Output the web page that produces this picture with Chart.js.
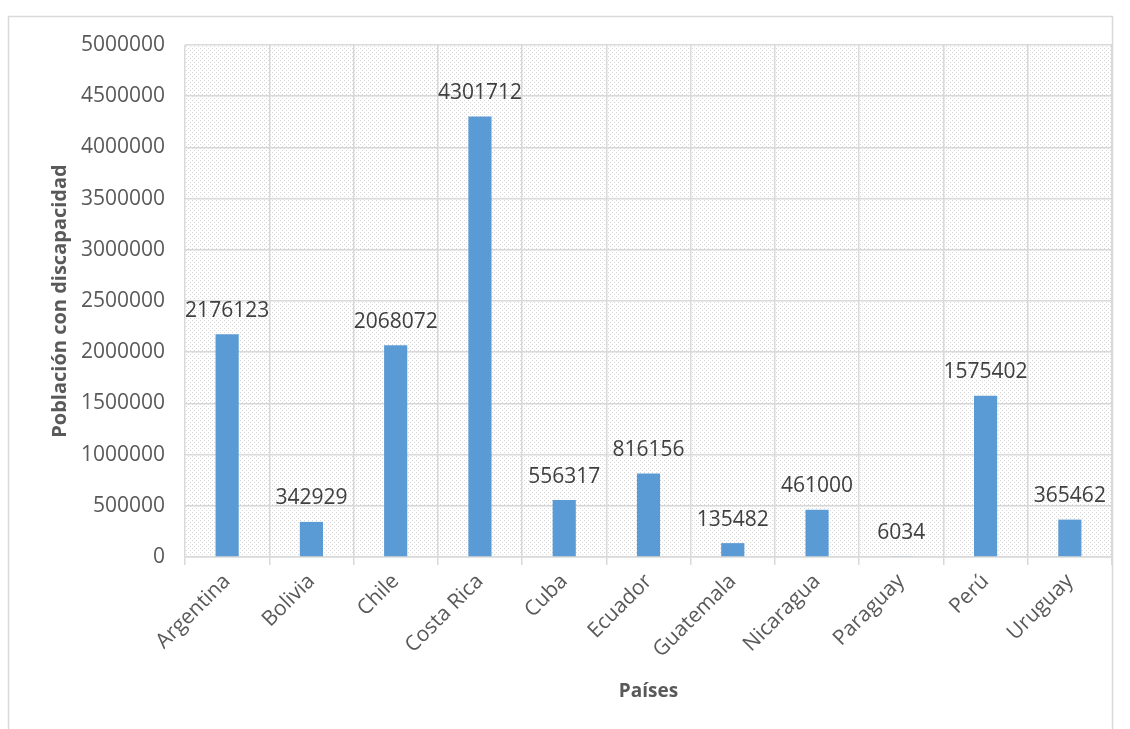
<!DOCTYPE html>
<html>
<head>
<meta charset="utf-8">
<script src="https://cdn.jsdelivr.net/npm/chart.js@4/dist/chart.umd.min.js"></script>
<style>
  html, body { margin: 0; padding: 0; background: #fff; }
  #wrap { width: 1130px; height: 729px; position: relative; }
</style>
</head>
<body>
<div id="wrap"><canvas id="chart" width="1130" height="729"></canvas></div>
<script>
// chart data
const countries = ['Argentina', 'Bolivia', 'Chile', 'Costa Rica', 'Cuba', 'Ecuador',
  'Guatemala', 'Nicaragua', 'Paraguay', 'Perú', 'Uruguay'];
const population = [2176123, 342929, 2068072, 4301712, 556317, 816156,
  135482, 461000, 6034, 1575402, 365462];
const yMax = 5000000;
const yStep = 500000;

const textColor = '#595959';
const gridColor = '#d9d9d9';
const fontFamily = '"Open Sans", "Noto Sans", sans-serif';

function makeHatch() {
  const c = document.createElement('canvas');
  c.width = 8; c.height = 8;
  const g = c.getContext('2d');
  g.fillStyle = '#ffffff';
  g.fillRect(0, 0, 8, 8);
  g.fillStyle = '#d6d6d6';
  for (let y = 0; y < 8; y++) {
    for (let x = 0; x < 8; x++) {
      if ((x - y + 16) % 4 === 0 && x % 2 === 0) g.fillRect(x, y, 1, 1);
    }
  }
  return c;
}

// outer frame + hatched plot background
const backgroundPlugin = {
  id: 'hatchBg',
  beforeDraw(chart) {
    const { ctx, chartArea } = chart;
    ctx.save();
    ctx.strokeStyle = gridColor;
    ctx.lineWidth = 1.5;
    ctx.strokeRect(8.5, 16.5, 1104, 740);
    ctx.fillStyle = ctx.createPattern(makeHatch(), 'repeat');
    ctx.fillRect(chartArea.left, chartArea.top,
      chartArea.right - chartArea.left, chartArea.bottom - chartArea.top);
    ctx.restore();
  }
};

// value labels above the bars
const valueLabels = {
  id: 'valueLabels',
  afterDatasetsDraw(chart) {
    const { ctx } = chart;
    const meta = chart.getDatasetMeta(0);
    ctx.save();
    ctx.font = '21px ' + fontFamily;
    ctx.fillStyle = '#404040';
    ctx.textAlign = 'center';
    ctx.textBaseline = 'bottom';
    meta.data.forEach((bar, i) => {
      ctx.fillText(String(population[i]), bar.x, bar.y - 13);
    });
    ctx.restore();
  }
};

new Chart(document.getElementById('chart'), {
  type: 'bar',
  data: {
    labels: countries,
    datasets: [{
      label: 'Población con discapacidad',
      data: population,
      backgroundColor: '#5b9bd5',
      borderWidth: 0,
      barPercentage: 0.55,
      categoryPercentage: 0.5,
    }]
  },
  options: {
    responsive: false,
    animation: false,
    layout: { padding: { left: 48, top: 45, right: 18, bottom: 22 } },
    plugins: {
      legend: { display: false },
      tooltip: { enabled: false }
    },
    scales: {
      y: {
        min: 0,
        max: yMax,
        ticks: {
          stepSize: yStep,
          color: textColor,
          font: { family: fontFamily, size: 21 },
          padding: 20,
          callback: (val) => String(val)
        },
        grid: { color: gridColor, lineWidth: 1.5, drawTicks: false },
        border: { display: false },
        title: {
          display: true,
          text: 'Población con discapacidad',
          color: textColor,
          font: { family: fontFamily, size: 20, weight: 'bold' },
          padding: { top: 0, bottom: 0 }
        },
        afterFit: (scale) => { scale.width = 137; }
      },
      x: {
        ticks: {
          color: textColor,
          font: { family: fontFamily, size: 21 },
          minRotation: 45,
          maxRotation: 45,
          padding: 4,
          autoSkip: false
        },
        grid: { color: gridColor, lineWidth: 1.5, tickLength: 8, offset: true },
        border: { color: gridColor, width: 1.5 },
        title: {
          display: true,
          text: 'Países',
          color: textColor,
          font: { family: fontFamily, size: 19, weight: 'bold' },
          padding: { top: 4, bottom: 4 }
        },
        afterFit: (scale) => { scale.height = 150; }
      }
    }
  },
  plugins: [backgroundPlugin, valueLabels]
});
</script>
</body>
</html>
